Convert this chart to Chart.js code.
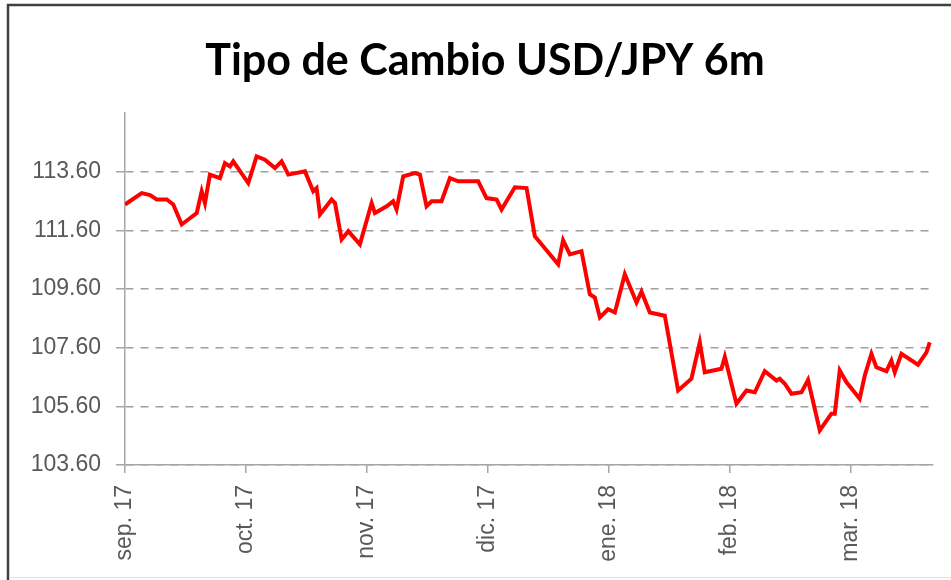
<!DOCTYPE html>
<html>
<head>
<meta charset="utf-8">
<script src="https://cdn.jsdelivr.net/npm/chart.js@4/dist/chart.umd.min.js"></script>
<style>
  html, body { margin: 0; padding: 0; background: #fff; }
  #wrap { width: 951px; height: 580px; position: relative; }
</style>
</head>
<body>
<div id="wrap"><canvas id="fxChart"></canvas></div>
<script>
// month tick labels (one per month, at x = 0..6)
const monthLabels = ['sep. 17', 'oct. 17', 'nov. 17', 'dic. 17', 'ene. 18', 'feb. 18', 'mar. 18'];
const yTicks = [103.6, 105.6, 107.6, 109.6, 111.6, 113.6];

// position of each point, in months since sep. 17
const monthPos = [
    0.000, 0.138, 0.207, 0.262, 0.345, 0.399, 0.469, 0.523, 0.593, 0.634, 0.661,
    0.702, 0.785, 0.826, 0.868, 0.895, 1.019, 1.088, 1.157, 1.240, 1.295, 1.350,
    1.488, 1.556, 1.584, 1.612, 1.708, 1.736, 1.791, 1.846, 1.942, 2.039, 2.066,
    2.163, 2.217, 2.245, 2.300, 2.397, 2.438, 2.493, 2.535, 2.617, 2.686, 2.755,
    2.920, 2.989, 3.072, 3.113, 3.223, 3.320, 3.388, 3.581, 3.622, 3.678, 3.774,
    3.843, 3.884, 3.926, 3.994, 4.050, 4.132, 4.229, 4.270, 4.339, 4.463, 4.573,
    4.683, 4.752, 4.793, 4.931, 4.959, 5.055, 5.138, 5.207, 5.289, 5.386, 5.413,
    5.455, 5.510, 5.593, 5.647, 5.744, 5.840, 5.868, 5.909, 5.965, 6.074, 6.116,
    6.171, 6.212, 6.295, 6.336, 6.364, 6.419, 6.556, 6.626, 6.653
];
// USD/JPY rate
const usdJpy = [
    112.48, 112.87, 112.80, 112.65, 112.65, 112.48, 111.80, 111.97, 112.19, 112.93, 112.53,
    113.50, 113.38, 113.89, 113.78, 113.95, 113.21, 114.12, 114.01, 113.72, 113.95, 113.50,
    113.61, 112.93, 113.04, 112.14, 112.65, 112.53, 111.29, 111.57, 111.12, 112.53, 112.19,
    112.42, 112.59, 112.31, 113.44, 113.55, 113.50, 112.42, 112.59, 112.59, 113.38, 113.27,
    113.27, 112.70, 112.65, 112.31, 113.07, 113.04, 111.40, 110.44, 111.26, 110.78, 110.89,
    109.42, 109.31, 108.63, 108.91, 108.80, 110.10, 109.14, 109.51, 108.80, 108.69, 106.14,
    106.54, 107.78, 106.76, 106.88, 107.29, 105.69, 106.14, 106.08, 106.80, 106.48, 106.54,
    106.37, 106.03, 106.08, 106.50, 104.78, 105.35, 105.35, 106.82, 106.42, 105.86, 106.65,
    107.39, 106.93, 106.80, 107.16, 106.76, 107.39, 107.02, 107.44, 107.78
];

const points = monthPos.map((m, i) => ({ x: m, y: usdJpy[i] }));

// frame + title drawn straight on the canvas
const frameAndTitle = {
    id: 'frameAndTitle',
    beforeDraw(chart) {
        const { ctx } = chart;
        ctx.save();
        ctx.fillStyle = '#fff';
        ctx.fillRect(0, 0, chart.width, chart.height);
        ctx.strokeStyle = '#404040';
        ctx.lineWidth = 2.5;
        ctx.beginPath();
        ctx.moveTo(8, chart.height + 5);
        ctx.lineTo(8, 5);
        ctx.lineTo(chart.width + 5, 5);
        ctx.stroke();
        ctx.strokeStyle = '#e0e0e0';
        ctx.lineWidth = 1;
        ctx.beginPath();
        ctx.moveTo(9, 577.5);
        ctx.lineTo(chart.width, 577.5);
        ctx.stroke();

        ctx.fillStyle = '#000';
        ctx.textAlign = 'center';
        ctx.textBaseline = 'alphabetic';
        ctx.font = 'bold 43px Lato, sans-serif';
        ctx.fillText('Tipo de Cambio USD/JPY 6m', 485, 75);
        ctx.restore();
    }
};

const ctx = document.getElementById('fxChart').getContext('2d');
new Chart(ctx, {
    type: 'line',
    data: {
        datasets: [{
            data: points,
            borderColor: '#ff0000',
            borderWidth: 4,
            pointRadius: 0,
            tension: 0,
            fill: false
        }]
    },
    options: {
        responsive: true,
        maintainAspectRatio: false,
        animation: false,
        layout: {
            padding: { top: 113, right: 18, left: 0, bottom: 0 }
        },
        scales: {
            x: {
                type: 'linear',
                min: 0,
                max: 6.68,
                afterBuildTicks: (scale) => {
                    scale.ticks = monthLabels.map((_, i) => ({ value: i }));
                },
                afterFit: (scale) => { scale.height = 115; },
                ticks: {
                    color: '#595959',
                    autoSkip: false,
                    minRotation: 90,
                    maxRotation: 90,
                    padding: 12,
                    font: { family: 'Liberation Sans', size: 23 },
                    callback: (v) => monthLabels[v]
                },
                grid: {
                    drawOnChartArea: false,
                    drawTicks: true,
                    tickLength: 8,
                    color: '#a6a6a6',
                    lineWidth: 1.5
                },
                border: { color: '#a6a6a6', width: 1.5 }
            },
            y: {
                min: 103.6,
                max: 115.6,
                afterBuildTicks: (scale) => {
                    scale.ticks = yTicks.map(v => ({ value: v }));
                },
                afterFit: (scale) => { scale.width = 125; },
                ticks: {
                    color: '#595959',
                    padding: 15,
                    font: { family: 'Liberation Sans', size: 23 },
                    callback: (v) => v.toFixed(2)
                },
                grid: {
                    color: '#a0a0a0',
                    lineWidth: 1.5,
                    tickLength: 9,
                    tickBorderDash: [],
                    tickColor: '#a6a6a6'
                },
                border: { color: '#a6a6a6', width: 1.5, dash: [8, 7] }
            }
        },
        plugins: {
            legend: { display: false },
            tooltip: { enabled: false }
        }
    },
    plugins: [frameAndTitle]
});
</script>
</body>
</html>
